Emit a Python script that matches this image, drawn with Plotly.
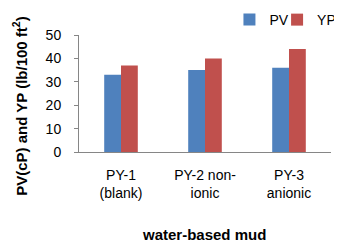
import plotly.graph_objects as go

categories = ["PY-1<br>(blank)", "PY-2 non-<br>ionic", "PY-3<br>anionic"]
pv_values = [33, 35, 36]
yp_values = [37, 40, 44]
y_ticks = [0, 10, 20, 30, 40, 50]

FONT = "Liberation Sans"

fig = go.Figure()
fig.add_trace(go.Bar(name="PV", x=categories, y=pv_values, marker_color="#4F81BD",
                     marker_line_width=0, legend="legend"))
fig.add_trace(go.Bar(name="YP", x=categories, y=yp_values, marker_color="#C0504D",
                     marker_line_width=0, legend="legend2"))

legend_common = dict(orientation="h", yanchor="middle",
                     font=dict(family=FONT, size=14, color="black"), itemwidth=30,
                     bgcolor="rgba(0,0,0,0)", borderwidth=0)

# the page body has an 8px margin, so the figure is sized to fill the rest of the window
fig.update_layout(
    width=334, height=243,
    margin=dict(l=71, r=11, t=27, b=99, autoexpand=False),
    paper_bgcolor="white", plot_bgcolor="white",
    barmode="group", bargap=0.6, bargroupgap=0,
    font=dict(family=FONT, size=14, color="black"),
    showlegend=True,
    legend=dict(x=0.597, y=1.128, xanchor="left", **legend_common),
    legend2=dict(x=1.04, y=1.128, xanchor="right", **legend_common),
    annotations=[
        dict(text="<b>PV(cP) and YP (lb/100 ft<sup>2</sup>)</b>", textangle=-90,
             xref="paper", yref="paper", x=-0.234, y=0.395, xanchor="center", yanchor="middle",
             showarrow=False, font=dict(family=FONT, size=15, color="black")),
        dict(text="<b>water-based mud</b>",
             xref="paper", yref="paper", x=0.498, y=-0.709, xanchor="center", yanchor="middle",
             showarrow=False, font=dict(family=FONT, size=15, color="black")),
    ],
)
fig.update_xaxes(showline=True, linecolor="#868686", linewidth=1, ticks="", showgrid=False,
                 tickfont=dict(family=FONT, size=14), ticklabelstandoff=10, automargin=False)
fig.update_yaxes(range=[0, 50], tickvals=y_ticks, showline=True, linecolor="#868686", linewidth=1,
                 ticks="outside", ticklen=4, tickcolor="#868686", showgrid=False, zeroline=False,
                 tickfont=dict(family=FONT, size=14), ticklabelstandoff=10, automargin=False)

fig.write_html("out.html")
